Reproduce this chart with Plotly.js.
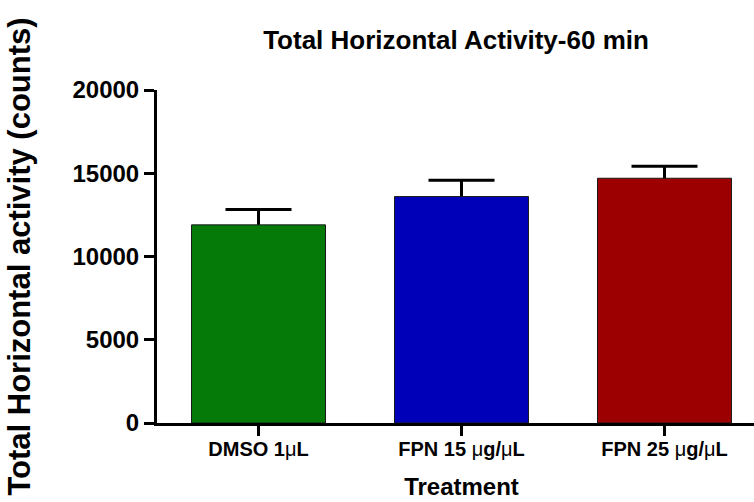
<!DOCTYPE html>
<html>
<head>
<meta charset="utf-8">
<script src="https://cdn.plot.ly/plotly-3.0.1.min.js"></script>
<style>
  html, body { margin: 0; padding: 0; background: #fff; overflow: hidden; }
  #chart { width: 766px; height: 502px; }
</style>
</head>
<body>
<div id="chart"></div>
<script>
// Total horizontal activity over 60 min, mean + upper SEM per treatment
const treatments = [
  'DMSO 1<span style="font-weight:normal">μ</span>L',
  'FPN 15 <span style="font-weight:normal">μ</span>g/<span style="font-weight:normal">μ</span>L',
  'FPN 25 <span style="font-weight:normal">μ</span>g/<span style="font-weight:normal">μ</span>L'
];
const meanCounts = [11900, 13600, 14700];
const semCounts = [930, 980, 720];
const barColors = ['#067a08', '#0000b8', '#9c0000'];
const yTicks = [0, 5000, 10000, 15000, 20000];

const fontFamily = '"Liberation Sans", Arial, Helvetica, sans-serif';
const positions = treatments.map((_, i) => i);

// Error bars sit on a transparent bar layer underneath, so only the
// upper whisker and cap show above each filled bar.
const sem = {
  type: 'bar',
  x: positions,
  y: meanCounts,
  width: 0.66,
  marker: { color: 'rgba(0,0,0,0)', line: { width: 0 } },
  error_y: {
    type: 'data',
    symmetric: false,
    array: semCounts,
    arrayminus: meanCounts,
    color: '#000',
    thickness: 3,
    width: 33
  },
  hoverinfo: 'skip'
};

const bars = {
  type: 'bar',
  x: positions,
  y: meanCounts,
  width: 0.66,
  marker: {
    color: barColors,
    line: { color: '#1a1a1a', width: 1 }
  },
  hoverinfo: 'skip'
};

const layout = {
  width: 766,
  height: 502,
  margin: { l: 157, r: 0, t: 90, b: 79 },
  barmode: 'overlay',
  paper_bgcolor: '#fff',
  plot_bgcolor: '#fff',
  showlegend: false,
  font: { family: fontFamily, color: '#000' },
  title: {
    text: 'Total Horizontal Activity-60 min',
    font: { family: fontFamily, size: 26, weight: 'bold', color: '#000' },
    xref: 'container',
    x: 456 / 766,
    xanchor: 'center',
    yref: 'container',
    y: 1 - 40 / 502,
    yanchor: 'middle'
  },
  xaxis: {
    range: [-0.5, 2.5],
    tickmode: 'array',
    tickvals: positions,
    ticktext: treatments,
    ticks: 'outside',
    ticklen: 10,
    tickwidth: 3,
    tickcolor: '#000',
    ticklabelstandoff: -4,
    showline: true,
    linecolor: '#000',
    linewidth: 3,
    showgrid: false,
    zeroline: false,
    tickfont: { family: fontFamily, size: 20, weight: 'bold', color: '#000' },
    title: {
      text: 'Treatment',
      font: { family: fontFamily, size: 24, weight: 'bold', color: '#000' },
      standoff: 20
    },
    fixedrange: true
  },
  yaxis: {
    range: [0, 20000],
    tickmode: 'array',
    tickvals: yTicks,
    ticktext: yTicks.map(String),
    ticks: 'outside',
    ticklen: 10,
    tickwidth: 3,
    tickcolor: '#000',
    showline: true,
    linecolor: '#000',
    linewidth: 3,
    showgrid: false,
    zeroline: false,
    tickfont: { family: fontFamily, size: 24, weight: 'bold', color: '#000' },
    title: {
      text: 'Total Horizontal activity (counts)',
      font: { family: fontFamily, size: 31, weight: 'bold', color: '#000' },
      standoff: 33
    },
    fixedrange: true
  }
};

Plotly.newPlot('chart', [sem, bars], layout, { displayModeBar: false, staticPlot: true });
</script>
</body>
</html>
